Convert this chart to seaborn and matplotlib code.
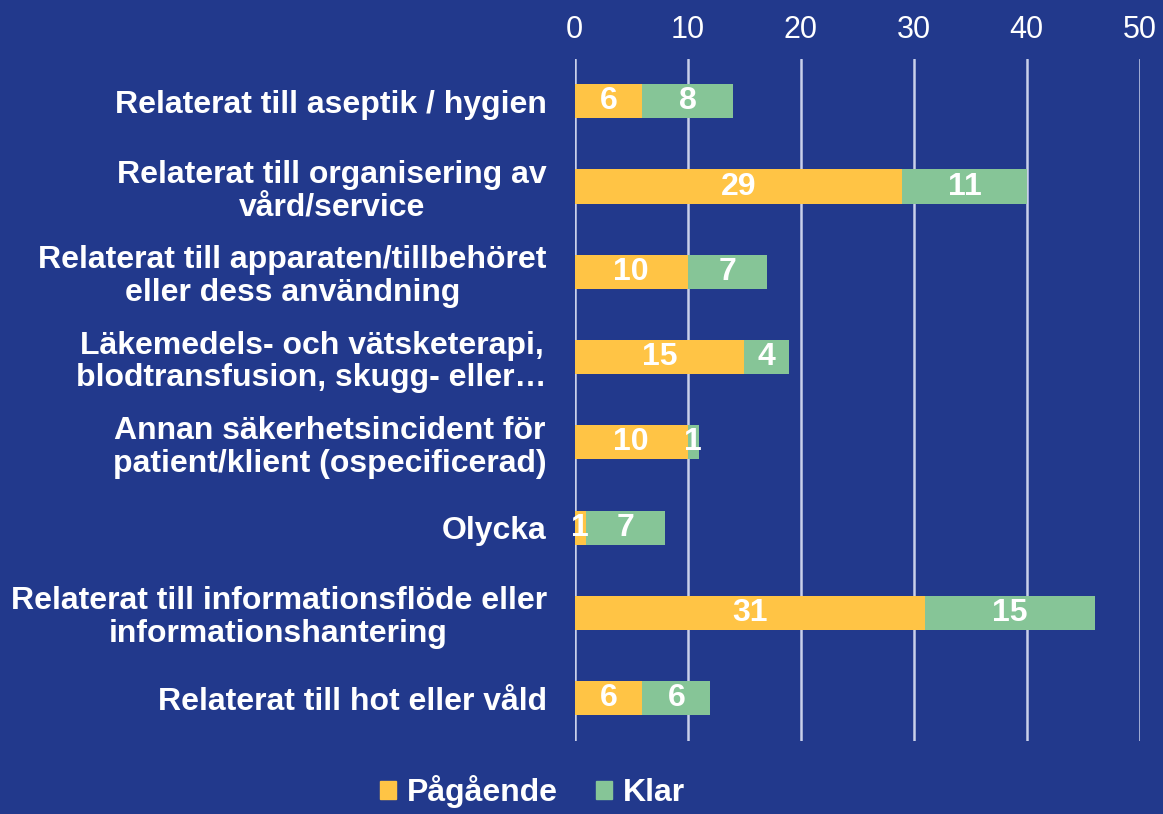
import matplotlib

matplotlib.use("Agg")

import matplotlib.pyplot as plt
import pandas as pd
import seaborn as sns
from matplotlib.patches import Patch

categories = [
    "Relaterat till aseptik / hygien",
    "Relaterat till organisering av\nvård/service",
    "Relaterat till apparaten/tillbehöret\neller dess användning",
    "Läkemedels- och vätsketerapi,\nblodtransfusion, skugg- eller…",
    "Annan säkerhetsincident för\npatient/klient (ospecificerad)",
    "Olycka",
    "Relaterat till informationsflöde eller\ninformationshantering",
    "Relaterat till hot eller våld",
]
pagaende = [6, 29, 10, 15, 10, 1, 31, 6]
klar = [8, 11, 7, 4, 1, 7, 15, 6]
ticks = [0, 10, 20, 30, 40, 50]

BG = "#22398C"
YELLOW = "#FFC445"
GREEN = "#86C597"
GRID = "#C9D0EA"

sns.set_theme(style="white")
plt.rcParams["font.family"] = ["Liberation Sans", "DejaVu Sans"]

df = pd.DataFrame({"category": categories, "Pågående": pagaende, "Klar": klar})
df["total"] = df["Pågående"] + df["Klar"]

fig, ax = plt.subplots(figsize=(11.63, 8.14), dpi=100)
fig.patch.set_facecolor(BG)
ax.set_facecolor(BG)
fig.subplots_adjust(left=0.494, right=0.98, top=0.928, bottom=0.09)

# stacked bars: full total in green, ongoing part drawn over it in yellow
sns.barplot(data=df, x="total", y="category", color=GREEN, width=0.4,
            saturation=1, orient="h", ax=ax, zorder=3, linewidth=0)
sns.barplot(data=df, x="Pågående", y="category", color=YELLOW, width=0.4,
            saturation=1, orient="h", ax=ax, zorder=3, linewidth=0)

for i, (p, k) in enumerate(zip(pagaende, klar)):
    ax.text(p / 2, i, str(p), ha="center", va="center", color="white",
            fontsize=23, fontweight="bold", zorder=5)
    ax.text(p + k / 2, i, str(k), ha="center", va="center", color="white",
            fontsize=23, fontweight="bold", zorder=5)

ax.set_xlim(0, 50)
ax.set_ylim(7.5, -0.5)
ax.set_xticks(ticks)
ax.xaxis.tick_top()
ax.tick_params(axis="x", colors="white", labelsize=22, length=0, pad=10)
ax.tick_params(axis="y", colors="white", labelsize=23, length=0, pad=20)
for lbl in ax.get_yticklabels():
    lbl.set_fontweight("bold")
    lbl.set_horizontalalignment("right")
    lbl.set_multialignment("center")
    lbl.set_linespacing(1.12)
ax.set_xlabel("")
ax.set_ylabel("")
ax.grid(axis="x", color=GRID, linewidth=1.8, zorder=0)
ax.set_axisbelow(True)
for s in ax.spines.values():
    s.set_visible(False)

handles = [Patch(color=YELLOW, label="Pågående"), Patch(color=GREEN, label="Klar")]
leg = fig.legend(handles=handles, loc="lower center", bbox_to_anchor=(0.458, -0.028),
                 ncol=2, frameon=False, fontsize=23, handlelength=0.48, handleheight=0.48,
                 handletextpad=0.35, columnspacing=1.2)
for t in leg.get_texts():
    t.set_color("white")
    t.set_fontweight("bold")

fig.savefig("out.png", dpi=100, facecolor=BG)
